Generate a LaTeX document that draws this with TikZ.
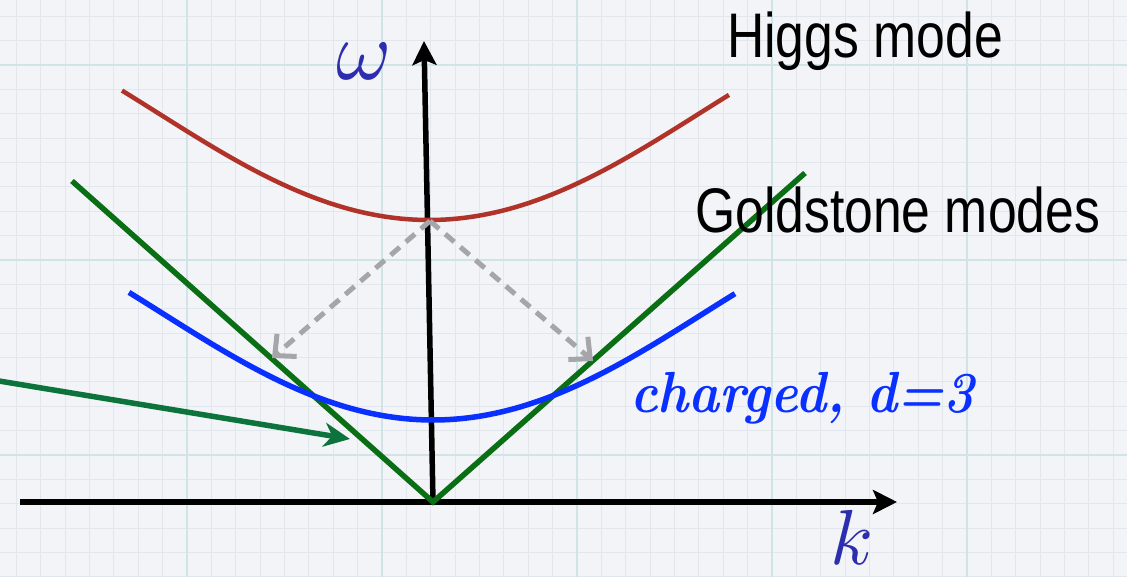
\documentclass[tikz,border=0pt]{standalone}
\usepackage{fontspec}
\usepackage{graphicx}
\usetikzlibrary{arrows.meta}

\newfontfamily\labelsans{Liberation Sans}
\newcommand\squeeze[1]{\scalebox{0.82}[1]{#1}}

\definecolor{higgsred}{RGB}{176,50,40}
\definecolor{goldgreen}{RGB}{10,110,20}
\definecolor{chargedblue}{RGB}{10,48,255}
\definecolor{axisblue}{RGB}{45,45,175}
\definecolor{pointgreen}{RGB}{12,115,60}
\definecolor{decaygray}{RGB}{165,165,170}
\definecolor{paper}{RGB}{243,244,247}
\definecolor{gridminor}{RGB}{226,231,237}
\definecolor{gridmajor}{RGB}{208,228,232}

\begin{document}
\begin{tikzpicture}[
    x=1pt, y=1pt,
    axis/.style={line width=5.5pt, -{Stealth[length=24pt, width=24pt, inset=5pt]}},
    mode/.style={line width=5.5pt},
    decay/.style={line width=5pt, decaygray, dash pattern=on 12pt off 8pt, -{Straight Barb[length=16pt, width=30pt]}},
    caption/.style={inner sep=0pt, anchor=base west, font=\labelsans\fontsize{63}{70}\selectfont},
    axislabel/.style={inner sep=0pt, text=axisblue}
]

% paper background
\useasboundingbox (-433,-75) rectangle (694,502);
\fill[paper] (-433,-75) rectangle (694,502);
\begin{scope}
  \clip (-433,-75) rectangle (694,502);
  \foreach \i in {0,...,47}
    \draw[gridminor, line width=1pt] ({-441+\i*24.375},-75) -- ({-441+\i*24.375},502);
  \foreach \j in {0,...,27}
    \draw[gridminor, line width=1pt] (-433,{-148+\j*24.375}) -- (694,{-148+\j*24.375});
  \foreach \i in {0,...,6}
    \draw[gridmajor, line width=2pt] ({-441+\i*195},-75) -- ({-441+\i*195},502);
  \foreach \j in {0,...,3}
    \draw[gridmajor, line width=2pt] (-433,{-148+\j*195}) -- (694,{-148+\j*195});
\end{scope}

% axes
\coordinate (O) at (0,0);
\coordinate (xstart) at (-413,0);
\coordinate (xend) at (464,0);
\coordinate (ytip) at (-9,461);
\draw[axis] (xstart) -- (xend);
\draw[axis] (O) -- (ytip);

% dispersion curves
\draw[higgsred, line width=4.5pt] plot[domain=-3.07:3.0, samples=80, smooth]
  ({100*\x-4}, {282+17.5*\x*\x-0.4*\x*\x*\x*\x});
\coordinate (gleft) at (-361,321);
\coordinate (gright) at (372,329);
\draw[mode, goldgreen] (gleft) -- (O) -- (gright);
\draw[mode, chargedblue] plot[domain=-3.04:3.02, samples=80, smooth]
  ({100*\x}, {82+17.5*\x*\x-0.4*\x*\x*\x*\x});

% decay of the Higgs mode
\coordinate (hmin) at (-3,281);
\coordinate (hitleft) at (-161,144);
\coordinate (hitright) at (160,141);
\draw[decay] (hmin) -- (hitleft);
\draw[decay] (hmin) -- (hitright);

\coordinate (pointer) at (-440,122);
\coordinate (pointtip) at (-83,63);
\draw[pointgreen, line width=5.5pt, -{Stealth[length=26pt, width=24pt, inset=8pt]}] (pointer) -- (pointtip);

% labels
\node[axislabel] (omega) at (-69,441) {\scalebox{8.4}{$\omega$}};
\node[axislabel] (klabel) at (419,-35) {\scalebox{7.8}{$k$}};
\node[caption] (higgs) at (294,444) {\squeeze{Higgs mode}};
\node[caption] (goldstone) at (262,269) {\squeeze{Goldstone modes}};
\node[inner sep=0pt, anchor=base west, text=chargedblue, font=\fontsize{58}{64}\selectfont\bfseries\itshape] (charged) at (197,89) {\scalebox{0.9}[1]{charged, d=3}};

\end{tikzpicture}
\end{document}
